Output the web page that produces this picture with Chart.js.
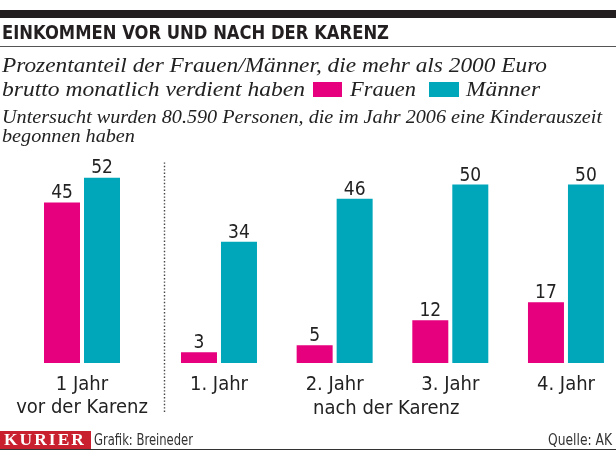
<!DOCTYPE html>
<html><head><meta charset="utf-8">
<script src="https://cdn.jsdelivr.net/npm/chart.js@4.4.1/dist/chart.umd.min.js"></script>
<style>
html,body{margin:0;padding:0;background:#fff;width:616px;height:450px;overflow:hidden;position:relative}
#c{position:absolute;left:0;top:0}
.t{position:absolute;white-space:nowrap;transform-origin:0 0}
.box{position:absolute}
</style></head><body>
<canvas id="c" width="616" height="450"></canvas>
<script>
// ---- data ----
const categories = [["1 Jahr", "vor der Karenz"], "1. Jahr", "2. Jahr", "3. Jahr", "4. Jahr"];
const frauen = [45, 3, 5, 12, 17];
const maenner = [52, 34, 46, 50, 50];
const seriesNames = ["Frauen", "Männer"];
const groupLabel = "nach der Karenz";
const title = "EINKOMMEN VOR UND NACH DER KARENZ";
const subtitle = ["Prozentanteil der Frauen/Männer, die mehr als 2000 Euro", "brutto monatlich verdient haben"];
const note = ["Untersucht wurden 80.590 Personen, die im Jahr 2006 eine Kinderauszeit", "begonnen haben"];
const credit = "Grafik: Breineder";
const source = "Quelle: AK";
const brand = "KURIER";

// ---- style ----
const PINK = '#e6007e';
const TEAL = '#00a6b9';
const INK = '#231f20';
const SANS = "'DejaVu Sans Condensed', 'Liberation Sans', Arial, sans-serif";
const SERIF = "'Liberation Serif', 'Times New Roman', serif";

// ---- html text helpers ----
const mctx = document.createElement('canvas').getContext('2d');
function put(text, o) {
  const size = o.size;
  const font = (o.style || '') + ' ' + size + 'px ' + o.family;
  mctx.font = font;
  mctx.letterSpacing = (o.spacing || 0) + 'px';
  const m = mctx.measureText(text);
  mctx.letterSpacing = '0px';
  const asc = m.fontBoundingBoxAscent, desc = m.fontBoundingBoxDescent;
  const el = document.createElement('div');
  el.className = 't';
  el.textContent = text;
  el.style.font = font;
  el.style.lineHeight = size + 'px';
  el.style.color = o.color || '#222';
  if (o.spacing) el.style.letterSpacing = o.spacing + 'px';
  const top = o.base - asc - (size - asc - desc) / 2;
  el.style.top = top + 'px';
  const sx = o.sx || (o.w ? o.w / m.width : 1);
  el.style.transform = 'scaleX(' + sx + ')';
  el.style.left = (o.align === 'right' ? o.x - m.width * sx : o.x) + 'px';
  document.body.appendChild(el);
  return sx;
}
function box(l, t, w, h, c) {
  const d = document.createElement('div');
  d.className = 'box';
  Object.assign(d.style, {left: l + 'px', top: t + 'px', width: w + 'px', height: h + 'px', background: c});
  document.body.appendChild(d);
}

box(0, 10, 616, 8, INK);
put(title, {x: 2, base: 39, size: 19, family: SANS, style: 'bold', w: 387, color: INK});
box(0, 46, 616, 1.2, '#555');
put(subtitle[0], {x: 2, base: 72, size: 22, family: SERIF, style: 'italic', w: 545});
put(subtitle[1], {x: 2, base: 96.5, size: 22, family: SERIF, style: 'italic', w: 303});
box(313, 82, 29, 15, PINK);
put(seriesNames[0], {x: 350, base: 96.5, size: 22, family: SERIF, style: 'italic', w: 66});
box(429, 82, 30, 15, TEAL);
put(seriesNames[1], {x: 466, base: 96.5, size: 22, family: SERIF, style: 'italic', w: 74});
const s3 = put(note[0], {x: 2, base: 123, size: 19, family: SERIF, style: 'italic', w: 600});
put(note[1], {x: 2, base: 142, size: 19, family: SERIF, style: 'italic', sx: s3});

box(0, 431, 91, 17.5, '#c8202f');
put(brand, {x: 4, base: 445, size: 17, family: SERIF, style: 'bold', spacing: 2, w: 82, color: '#fff'});
put(credit, {x: 94, base: 445, size: 15, family: SANS, w: 99, color: '#333'});
put(source, {x: 612, base: 445, size: 15, family: SANS, w: 64, color: '#333', align: 'right'});
box(0, 449, 616, 1, '#333');

// ---- chart ----
const GAP = 0.1844;               // extra spacing after the first group (in group units)
const xPos = categories.map((_, i) => i + (i > 0 ? GAP : 0));

const annot = {
  id: 'annot',
  afterDatasetsDraw(chart, args, opts) {
    const ctx = chart.ctx;
    ctx.save();
    ctx.fillStyle = '#222';
    ctx.textAlign = 'center';
    ctx.textBaseline = 'alphabetic';
    ctx.font = "19px " + SANS;
    chart.data.datasets.forEach((ds, di) => {
      chart.getDatasetMeta(di).data.forEach((bar, i) => {
        ctx.fillText(String(ds.data[i].y), bar.x, bar.y - 4);
      });
    });
    const xs = chart.scales.x;
    const ca = chart.chartArea;
    const px = Math.round(xs.getPixelForValue(opts.dividerAt)) + 0.5;
    ctx.strokeStyle = '#444';
    ctx.lineWidth = 1.4;
    ctx.setLineDash([1.4, 2]);
    ctx.beginPath();
    ctx.moveTo(px, ca.top - 15);
    ctx.lineTo(px, ca.bottom + 51);
    ctx.stroke();
    ctx.setLineDash([]);
    ctx.font = "20px " + SANS;
    ctx.fillText(groupLabel, xs.getPixelForValue(opts.groupLabelAt), ca.bottom + 51);
    ctx.restore();
  }
};

new Chart(document.getElementById('c'), {
  type: 'bar',
  data: {
    datasets: [
      {label: seriesNames[0], data: frauen.map((v, i) => ({x: xPos[i], y: v})), backgroundColor: PINK},
      {label: seriesNames[1], data: maenner.map((v, i) => ({x: xPos[i], y: v})), backgroundColor: TEAL}
    ]
  },
  options: {
    responsive: false,
    animation: false,
    devicePixelRatio: 1,
    layout: {padding: {top: 177.4, bottom: 35, left: 0, right: 0}},
    datasets: {bar: {categoryPercentage: 0.6916, barPercentage: 0.9, borderWidth: 0}},
    plugins: {
      legend: {display: false},
      tooltip: {enabled: false},
      annot: {dividerAt: 0.709, groupLabelAt: 2.63}
    },
    scales: {
      x: {
        type: 'linear', min: -0.709, max: 4.617, bounds: 'data', offset: false,
        grid: {display: false, drawTicks: false},
        border: {display: false},
        afterBuildTicks: s => { s.ticks = xPos.map(v => ({value: v})); },
        afterFit: s => { s.height = 52; },
        ticks: {
          autoSkip: false, maxRotation: 0, minRotation: 0, padding: 10, color: '#222',
          font: {family: SANS, size: 20, lineHeight: 1.15},
          callback: (v, i) => categories[i]
        }
      },
      y: {display: false, min: 0, max: 52}
    }
  },
  plugins: [annot]
});
</script>
</body></html>
